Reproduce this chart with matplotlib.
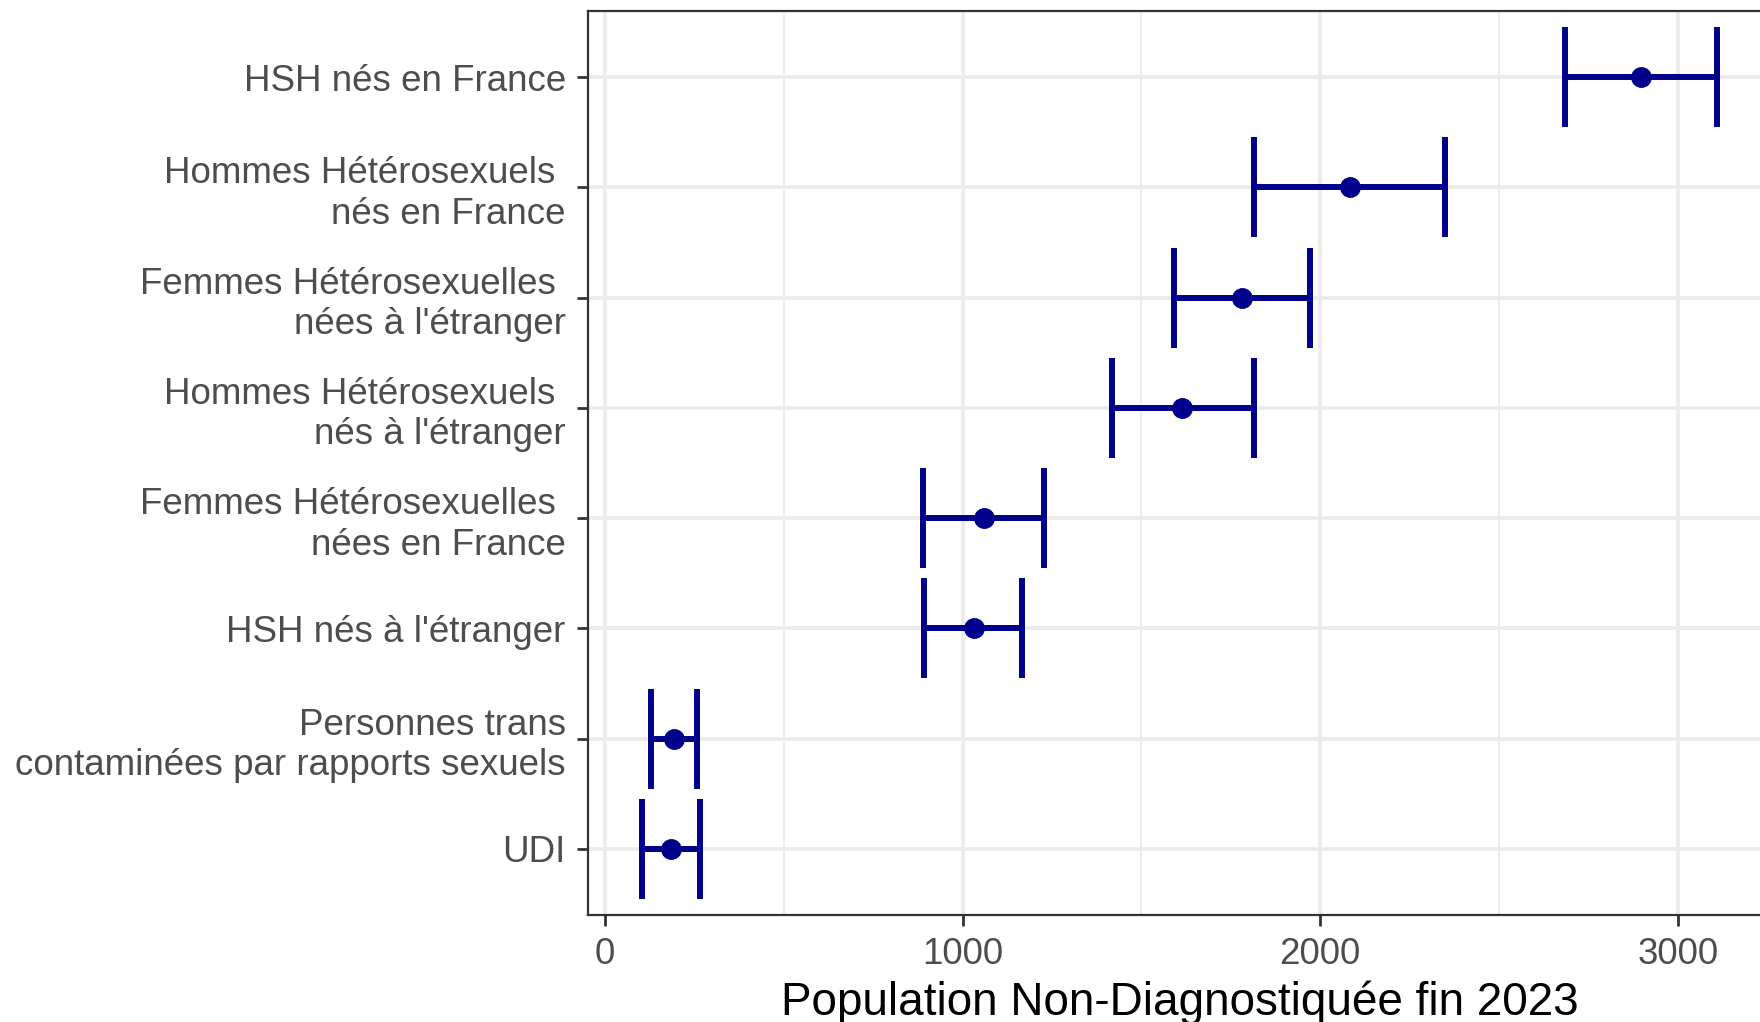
import numpy as np
import matplotlib
matplotlib.use('Agg')
import matplotlib.pyplot as plt
from matplotlib.ticker import MultipleLocator

plt.rcParams['font.family'] = ['Liberation Sans', 'DejaVu Sans']

# groupes, du haut vers le bas
groupes = ["HSH nés en France",
           "Hommes Hétérosexuels \nnés en France",
           "Femmes Hétérosexuelles \nnées à l'étranger",
           "Hommes Hétérosexuels \nnés à l'étranger",
           "Femmes Hétérosexuelles \nnées en France",
           "HSH nés à l'étranger",
           "Personnes trans\ncontaminées par rapports sexuels",
           "UDI"]
estim = [2897, 2082, 1781, 1614, 1060, 1031, 194, 185]
bas = [2683, 1815, 1592, 1417, 890, 893, 129, 103]
haut = [3110, 2348, 1972, 1815, 1229, 1166, 257, 266]

col = "#00008B"
W, H = 1760, 1022
fig = plt.figure(figsize=(W/100, H/100), dpi=100)
ax = fig.add_axes([588/W, 1-915/H, (1771-588)/W, (915-11)/H])

y = np.arange(len(groupes))
estim = np.array(estim)
err = [estim-np.array(bas), np.array(haut)-estim]
ax.errorbar(estim, y, xerr=err, fmt='o', color=col, ms=14, lw=4.3,
            capsize=36, capthick=4.3, zorder=3)

rng = max(haut)-min(bas)
ax.set_xlim(min(bas)-0.05*rng, max(haut)+0.05*rng)
ax.set_ylim(len(groupes)-0.4, -0.6)
ax.set_yticks(y)
ax.set_yticklabels(groupes, linespacing=1.2)
for t in ax.get_yticklabels():
    t.set_y(t.get_position()[1])
ax.xaxis.set_major_locator(MultipleLocator(1000))
ax.xaxis.set_minor_locator(MultipleLocator(500))
ax.grid(which='major', color='#EBEBEB', lw=2.6, zorder=0)
ax.grid(which='minor', axis='x', color='#EBEBEB', lw=1.3, zorder=0)
ax.set_axisbelow(True)
ax.tick_params(axis='both', which='major', labelsize=26.5, labelcolor='#4D4D4D',
               color='#333333', length=8, width=2, pad=8)
ax.tick_params(axis='y', pad=8)
ax.tick_params(which='minor', length=0)
for s in ax.spines.values():
    s.set_color('#333333')
    s.set_linewidth(1.6)
ax.set_xlabel("Population Non-Diagnostiquée fin 2023", fontsize=33, color='black', labelpad=6)

plt.savefig("out.png", dpi=100)
plt.close()
